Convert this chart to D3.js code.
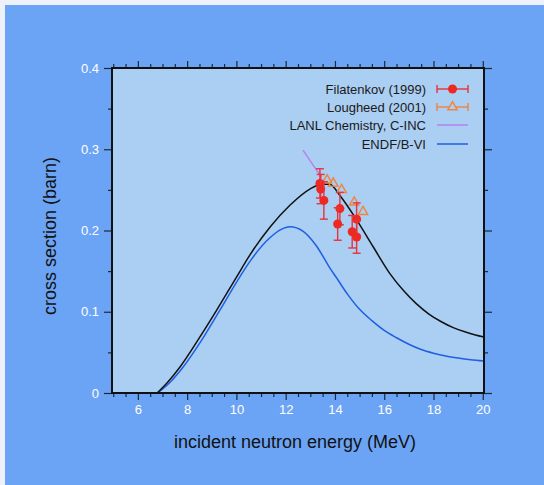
<!DOCTYPE html>
<html><head><meta charset="utf-8">
<script src="https://cdn.jsdelivr.net/npm/d3@7"></script>
<style>body{margin:0;background:#fff}svg{display:block}</style>
</head><body>
<script>
// ---- data ----
const xTickValues = [6, 8, 10, 12, 14, 16, 18, 20];
const yTickValues = [0, 0.1, 0.2, 0.3, 0.4];
const yTickLabels = ["0", "0.1", "0.2", "0.3", "0.4"];

const seriesNames = ["Filatenkov (1999)", "Lougheed (2001)", "LANL Chemistry, C-INC", "ENDF/B-VI"];

// black reference curve (unlabelled)
const blackE = [6.78, 7.2, 7.71, 8.52, 9.20, 10.01, 10.55, 11.36, 12.17, 12.98, 13.46, 13.79, 14.20, 14.88, 15.55, 16.23, 16.80, 17.3, 17.8, 18.3, 18.8, 19.3, 19.7, 20.05];
const blackV = [0, 0.013, 0.032, 0.069, 0.102, 0.143, 0.170, 0.204, 0.231, 0.251, 0.257, 0.257, 0.243, 0.213, 0.180, 0.147, 0.1255, 0.110, 0.0975, 0.088, 0.0805, 0.075, 0.0715, 0.069];

// ENDF/B-VI (blue)
const endfE = [6.80, 7.3, 7.84, 8.59, 9.33, 10.14, 10.55, 11.36, 11.8, 12.17, 12.71, 13.25, 13.79, 14.07, 14.5, 15.0, 15.5, 16.0, 16.5, 17.0, 17.5, 18.0, 18.5, 19.0, 19.5, 20.05];
const endfV = [0, 0.013, 0.032, 0.065, 0.102, 0.143, 0.162, 0.191, 0.201, 0.2045, 0.199, 0.181, 0.154, 0.1415, 0.122, 0.103, 0.089, 0.077, 0.068, 0.060, 0.0535, 0.049, 0.0455, 0.043, 0.041, 0.0395];

// LANL Chemistry, C-INC (purple)
const lanlE = [12.70, 13.25, 13.45];
const lanlV = [0.299, 0.2745, 0.266];

// Filatenkov (1999)
const filE = [13.39, 13.42, 13.55, 14.20, 14.11, 14.88, 14.70, 14.88];
const filV = [0.258, 0.251, 0.237, 0.227, 0.208, 0.214, 0.1985, 0.192];
const filErr = [0.018, 0.018, 0.023, 0.020, 0.020, 0.020, 0.020, 0.020];

// Lougheed (2001)
const lougE = [13.68, 13.93, 14.27, 14.78, 15.14];
const lougV = [0.262, 0.258, 0.250, 0.2347, 0.2231];

// ---- drawing ----
const W = 544, H = 485;
const L = 112, R = 484, T = 68, B = 393;
const font = "'Liberation Sans', Arial, Helvetica, sans-serif";

const svg = d3.select("body").append("svg").attr("width", W).attr("height", H);
svg.append("rect").attr("width", W).attr("height", H).attr("fill", "#eef2f8");
svg.append("rect").attr("x", 5).attr("y", 5).attr("width", W - 5).attr("height", H - 5).attr("fill", "#6ca4f5");

const x = d3.scaleLinear().domain([4.95, 20.05]).range([L, R]);
const y = d3.scaleLinear().domain([0, 0.4]).range([B, T]);

svg.append("rect").attr("x", L).attr("y", T).attr("width", R - L).attr("height", B - T).attr("fill", "#abcef3");

svg.append("clipPath").attr("id", "c").append("rect")
  .attr("x", L).attr("y", T).attr("width", R - L).attr("height", B - T);

const minorX = d3.range(5, 20.01, 0.5).filter(v => !xTickValues.includes(v));
const minorY = d3.range(0.05, 0.4, 0.1);

function axisStyle(g) {
  g.select(".domain").remove();
  g.selectAll("line").attr("stroke", "#1a2a3a").attr("stroke-width", 1.2);
}

// bottom
svg.append("g").attr("transform", `translate(0,${B})`)
  .call(d3.axisBottom(x).tickValues(xTickValues).tickSize(7).tickPadding(5).tickFormat(d3.format("d")))
  .call(axisStyle)
  .call(g => g.selectAll("text").attr("fill", "#ffffff").attr("font-size", 13).attr("font-family", font));
svg.append("g").attr("transform", `translate(0,${B})`)
  .call(d3.axisBottom(x).tickValues(minorX).tickSize(4).tickFormat(""))
  .call(axisStyle);
// top
svg.append("g").attr("transform", `translate(0,${T})`)
  .call(d3.axisTop(x).tickValues(xTickValues).tickSize(7).tickFormat(""))
  .call(axisStyle);
svg.append("g").attr("transform", `translate(0,${T})`)
  .call(d3.axisTop(x).tickValues(minorX).tickSize(4).tickFormat(""))
  .call(axisStyle);
// left
svg.append("g").attr("transform", `translate(${L},0)`)
  .call(d3.axisLeft(y).tickValues(yTickValues).tickSize(8).tickPadding(5).tickFormat((d, i) => yTickLabels[i]))
  .call(axisStyle)
  .call(g => g.selectAll("text").attr("fill", "#ffffff").attr("font-size", 13).attr("font-family", font));
svg.append("g").attr("transform", `translate(${L},0)`)
  .call(d3.axisLeft(y).tickValues(minorY).tickSize(4).tickFormat(""))
  .call(axisStyle);
// right
svg.append("g").attr("transform", `translate(${R},0)`)
  .call(d3.axisRight(y).tickValues(yTickValues).tickSize(8).tickFormat(""))
  .call(axisStyle);
svg.append("g").attr("transform", `translate(${R},0)`)
  .call(d3.axisRight(y).tickValues(minorY).tickSize(4).tickFormat(""))
  .call(axisStyle);

// curves
const plot = svg.append("g").attr("clip-path", "url(#c)");
const line = d3.line().x(d => x(d[0])).y(d => y(d[1])).curve(d3.curveMonotoneX);

plot.append("path").datum(endfE.map((e, i) => [e, endfV[i]]))
  .attr("d", line).attr("fill", "none").attr("stroke", "#1f5fe0").attr("stroke-width", 1.5);
plot.append("path").datum(blackE.map((e, i) => [e, blackV[i]]))
  .attr("d", line).attr("fill", "none").attr("stroke", "#111").attr("stroke-width", 1.5);
plot.append("path").datum(lanlE.map((e, i) => [e, lanlV[i]]))
  .attr("d", line).attr("fill", "none").attr("stroke", "#b383f0").attr("stroke-width", 1.5);

// Lougheed triangles
const tri = d3.symbol().type(d3.symbolTriangle).size(38);
plot.selectAll(".loug").data(lougE.map((e, i) => [e, lougV[i]])).enter().append("path")
  .attr("transform", d => `translate(${x(d[0])},${y(d[1])})`)
  .attr("d", tri).attr("fill", "none").attr("stroke", "#f0843a").attr("stroke-width", 1.4);

// Filatenkov error bars + circles
const filData = filE.map((e, i) => ({ e, v: filV[i], err: filErr[i] }));
const errC = "#e8323c";
const eb = plot.selectAll(".fil").data(filData).enter().append("g");
eb.append("line").attr("x1", d => x(d.e)).attr("x2", d => x(d.e))
  .attr("y1", d => y(d.v - d.err)).attr("y2", d => y(d.v + d.err)).attr("stroke", errC).attr("stroke-width", 1.4);
eb.append("line").attr("x1", d => x(d.e) - 4).attr("x2", d => x(d.e) + 4)
  .attr("y1", d => y(d.v + d.err)).attr("y2", d => y(d.v + d.err)).attr("stroke", errC).attr("stroke-width", 1.4);
eb.append("line").attr("x1", d => x(d.e) - 4).attr("x2", d => x(d.e) + 4)
  .attr("y1", d => y(d.v - d.err)).attr("y2", d => y(d.v - d.err)).attr("stroke", errC).attr("stroke-width", 1.4);
eb.append("circle").attr("cx", d => x(d.e)).attr("cy", d => y(d.v)).attr("r", 4.5).attr("fill", "#ec2a22");

// frame
svg.append("rect").attr("x", L).attr("y", T).attr("width", R - L).attr("height", B - T)
  .attr("fill", "none").attr("stroke", "#111").attr("stroke-width", 2);

// legend
const legY = [89, 107, 125, 144];
const lx1 = 437, lx2 = 468, lxm = 452.5;
const leg = svg.append("g");
seriesNames.forEach((n, i) => {
  leg.append("text").attr("x", 426).attr("y", legY[i]).attr("dy", "0.35em")
    .attr("text-anchor", "end").attr("font-size", 13).attr("font-family", font).attr("fill", "#1a1a1a").text(n);
});
function legErr(yy, col) {
  leg.append("line").attr("x1", lx1).attr("x2", lx2).attr("y1", yy).attr("y2", yy).attr("stroke", col).attr("stroke-width", 1.4);
  leg.append("line").attr("x1", lx1).attr("x2", lx1).attr("y1", yy - 4).attr("y2", yy + 4).attr("stroke", col).attr("stroke-width", 1.4);
  leg.append("line").attr("x1", lx2).attr("x2", lx2).attr("y1", yy - 4).attr("y2", yy + 4).attr("stroke", col).attr("stroke-width", 1.4);
}
legErr(legY[0], errC);
leg.append("circle").attr("cx", lxm).attr("cy", legY[0]).attr("r", 4.5).attr("fill", "#ec2a22");
legErr(legY[1], "#f0843a");
leg.append("path").attr("transform", `translate(${lxm},${legY[1]})`).attr("d", tri)
  .attr("fill", "#abcef3").attr("stroke", "#f0843a").attr("stroke-width", 1.4);
leg.append("line").attr("x1", lx1).attr("x2", lx2).attr("y1", legY[2]).attr("y2", legY[2]).attr("stroke", "#b383f0").attr("stroke-width", 1.5);
leg.append("line").attr("x1", lx1).attr("x2", lx2).attr("y1", legY[3]).attr("y2", legY[3]).attr("stroke", "#1f5fe0").attr("stroke-width", 1.5);

// axis titles
svg.append("text").attr("x", 295).attr("y", 448).attr("text-anchor", "middle")
  .attr("font-size", 18).attr("font-family", font).attr("fill", "#111").text("incident neutron energy (MeV)");
svg.append("text").attr("transform", "translate(56,236) rotate(-90)").attr("text-anchor", "middle")
  .attr("font-size", 18).attr("font-family", font).attr("fill", "#111").text("cross section (barn)");
</script>
</body></html>
